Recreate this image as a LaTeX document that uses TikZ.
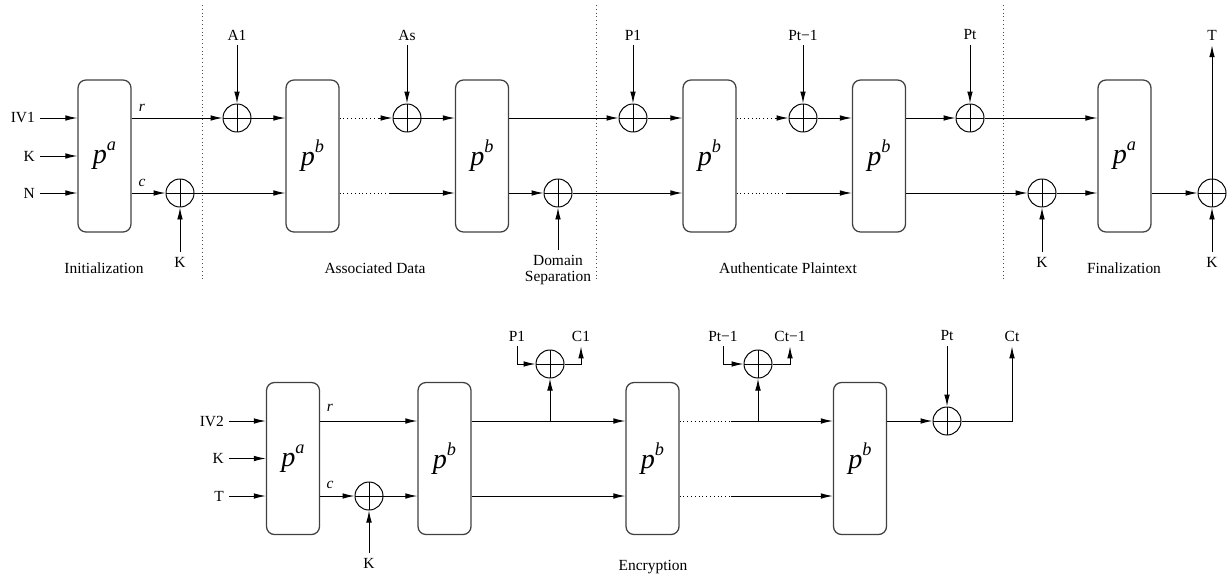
\documentclass[tikz,border=0pt]{standalone}
\usepackage{fontspec}
\setmainfont{Liberation Serif}
\usetikzlibrary{arrows.meta}
\usetikzlibrary{positioning}
\tikzset{auto, >={Latex[length=3mm,width=1.4mm]}, font=\fontsize{11}{11}\selectfont}
\tikzstyle{block} = [draw=black!75, line width=0.9pt, rectangle, rounded corners=2mm, minimum width=13.25mm, minimum height=38mm, inner sep=0pt]
\tikzstyle{xorop} = [draw, circle, minimum size=7mm, inner sep=0pt, path picture={\draw (path picture bounding box.north) -- (path picture bounding box.south) (path picture bounding box.west) -- (path picture bounding box.east);}]
\tikzstyle{sep} = [dotted, black!70]
\newcommand{\perm}[1]{{\fontsize{20}{20}\selectfont\itshape p\raisebox{3.2mm}{\fontsize{13}{13}\selectfont #1}}}

\begin{document}
\begin{tikzpicture}[x=0.25mm, y=-0.25mm, line width=0.7pt]
		\useasboundingbox (0,0) rectangle (1231,577);

		% phase separators
		\draw [sep] (202,5) -- (202,280);
		\draw [sep] (596,5) -- (596,280);
		\draw [sep] (1003,5) -- (1003,280);

		% authenticated part
		\node [block] (pa1) at (104.5,156) {\perm{a}};
		\node [block] (pb1) at (312.5,156) {\perm{b}};
		\node [block] (pb2) at (482,156) {\perm{b}};
		\node [block] (pb3) at (709.5,156) {\perm{b}};
		\node [block] (pb4) at (879,156) {\perm{b}};
		\node [block] (pa2) at (1124.5,156) {\perm{a}};

		\node [xorop] (xc1) at (180,193) {};
		\node [xorop] (xa1) at (237,118) {};
		\node [xorop] (xas) at (407,118) {};
		\node [xorop] (xds) at (558,193) {};
		\node [xorop] (xp1) at (633,118) {};
		\node [xorop] (xpt1) at (803,118) {};
		\node [xorop] (xpt) at (970,118) {};
		\node [xorop] (xk2) at (1042,193) {};
		\node [xorop] (xt) at (1212,193) {};

		\node [anchor=east] (iv1) at (40,118) {IV1};
		\node [anchor=east] (k1) at (40,156) {K};
		\node [anchor=east] (n1) at (40,193) {N};
		\node (r1) at (142,108) {\textit{r}};
		\node (c1) at (142,183) {\textit{c}};
		\node (kc1) at (180,262) {K};
		\node (a1) at (237,35) {A1};
		\node (as) at (407,35) {As};
		\node (ds) at (558,270) [align=center] {Domain\\Separation};
		\node (p1) at (633,35) {P1};
		\node (pt1) at (803,35) {Pt−1};
		\node (pt) at (970,35) {Pt};
		\node (kk2) at (1042,262) {K};
		\node (kt) at (1212,262) {K};
		\node (tag) at (1212,35) {T};

		\node (init) at (104,268) {Initialization};
		\node (ad) at (375,268) {Associated Data};
		\node (auth) at (788,268) {Authenticate Plaintext};
		\node (fin) at (1124,268) {Finalization};

		\draw [->] (iv1) -- (iv1 -| pa1.west);
		\draw [->] (k1) -- (k1 -| pa1.west);
		\draw [->] (n1) -- (n1 -| pa1.west);
		\draw [->] (pa1.east |- xa1) -- (xa1);
		\draw [->] (pa1.east |- xc1) -- (xc1);
		\draw [->] (kc1) -- (xc1);
		\draw [->] (a1) -- (xa1);
		\draw [->] (xa1) -- (xa1 -| pb1.west);
		\draw [->] (xc1) -- (xc1 -| pb1.west);
		\draw [dotted] (pb1.east |- xas) -- ([xshift=-3.5mm]xas.west);
		\draw [->] ([xshift=-3.5mm]xas.west) -- (xas);
		\draw [dotted] (pb1.east |- xc1) -- ([xshift=-16.25mm]pb2.west |- xc1);
		\draw [->] ([xshift=-16.25mm]pb2.west |- xc1) -- (pb2.west |- xc1);
		\draw [->] (as) -- (xas);
		\draw [->] (xas) -- (xas -| pb2.west);
		\draw [->] (pb2.east |- xp1) -- (xp1);
		\draw [->] (pb2.east |- xds) -- (xds);
		\draw [->] (ds) -- (xds);
		\draw [->] (xds) -- (xds -| pb3.west);
		\draw [->] (p1) -- (xp1);
		\draw [->] (xp1) -- (xp1 -| pb3.west);
		\draw [dotted] (pb3.east |- xpt1) -- ([xshift=-3.5mm]xpt1.west);
		\draw [->] ([xshift=-3.5mm]xpt1.west) -- (xpt1);
		\draw [dotted] (pb3.east |- xds) -- ([xshift=-16.25mm]pb4.west |- xds);
		\draw [->] ([xshift=-16.25mm]pb4.west |- xds) -- (pb4.west |- xds);
		\draw [->] (pt1) -- (xpt1);
		\draw [->] (xpt1) -- (xpt1 -| pb4.west);
		\draw [->] (pb4.east |- xpt) -- (xpt);
		\draw [->] (pt) -- (xpt);
		\draw [->] (xpt) -- (xpt -| pa2.west);
		\draw [->] (pb4.east |- xk2) -- (xk2);
		\draw [->] (kk2) -- (xk2);
		\draw [->] (xk2) -- (xk2 -| pa2.west);
		\draw [->] (pa2.east |- xt) -- (xt);
		\draw [->] (kt) -- (xt);
		\draw [->] (xt) -- (tag);

		% encryption part
		\node [block] (pa3) at (293,458.5) {\perm{a}};
		\node [block] (pb5) at (444.5,458.5) {\perm{b}};
		\node [block] (pb6) at (652.5,458.5) {\perm{b}};
		\node [block] (pb7) at (860,458.5) {\perm{b}};

		\node [xorop] (xc2) at (369,496) {};
		\node [xorop] (xe1) at (550,364) {};
		\node [xorop] (xe2) at (758,364) {};
		\node [xorop] (xe3) at (947,421) {};

		\node [anchor=east] (iv2) at (229,421) {IV2};
		\node [anchor=east] (k4) at (229,458.5) {K};
		\node [anchor=east] (t2) at (229,496) {T};
		\node (r2) at (330,408) {\textit{r}};
		\node (c2) at (330,485) {\textit{c}};
		\node (k5) at (369,563) {K};
		\node (pe1) at (517,336) {P1};
		\node (ce1) at (581,336) {C1};
		\node (pe2) at (723,336) {Pt−1};
		\node (ce2) at (790,336) {Ct−1};
		\node (pe3) at (947,336) {Pt};
		\node (ce3) at (1012,336) {Ct};
		\node (enc) at (653,567) {Encryption};

		\draw [->] (iv2) -- (iv2 -| pa3.west);
		\draw [->] (k4) -- (k4 -| pa3.west);
		\draw [->] (t2) -- (t2 -| pa3.west);
		\draw [->] (pa3.east |- iv2) -- (pb5.west |- iv2);
		\draw [->] (pa3.east |- xc2) -- (xc2);
		\draw [->] (k5) -- (xc2);
		\draw [->] (xc2) -- (xc2 -| pb5.west);
		\draw [->] (pb5.east |- iv2) -- (pb6.west |- iv2);
		\draw [->] (pb5.east |- xc2) -- (pb6.west |- xc2);
		\draw [->] (xe1 |- iv2) -- (xe1);
		\draw [->] (pe1) |- (xe1);
		\draw [->] (xe1) -| (ce1);
		\draw [dotted] (pb6.east |- iv2) -- ([xshift=12.75mm]pb6.east |- iv2);
		\draw [->] ([xshift=12.75mm]pb6.east |- iv2) -- (pb7.west |- iv2);
		\draw [dotted] (pb6.east |- xc2) -- ([xshift=12.75mm]pb6.east |- xc2);
		\draw [->] ([xshift=12.75mm]pb6.east |- xc2) -- (pb7.west |- xc2);
		\draw [->] (xe2 |- iv2) -- (xe2);
		\draw [->] (pe2) |- (xe2);
		\draw [->] (xe2) -| (ce2);
		\draw [->] (pb7.east |- xe3) -- (xe3);
		\draw [->] (pe3) -- (xe3);
		\draw [->] (xe3) -| (ce3);
	\end{tikzpicture}
\end{document}
